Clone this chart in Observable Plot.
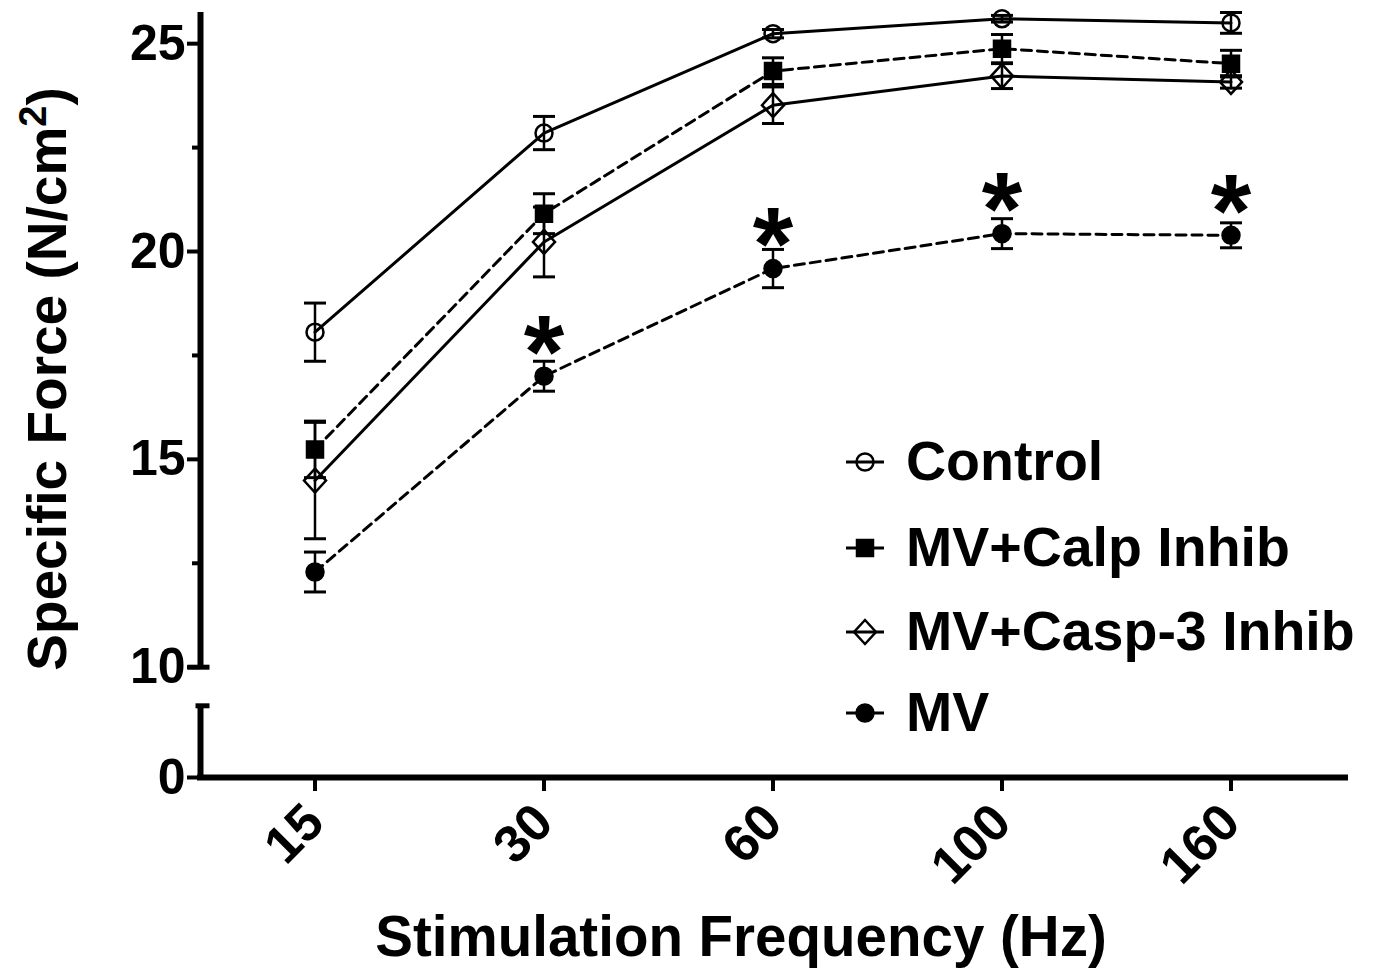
<!DOCTYPE html>
<html>
<head>
<meta charset="utf-8">
<script src="https://cdn.jsdelivr.net/npm/d3@7"></script>
<script src="https://cdn.jsdelivr.net/npm/@observablehq/plot@0.6"></script>
<style>
  body { margin: 0; background: #fff; }
  #wrap { position: relative; width: 1373px; height: 973px; font-family: "Liberation Sans", Arial, sans-serif; font-weight: bold; }
  #legend { position: absolute; left: 844px; top: 420px; }
  .row { position: absolute; left: 0; height: 84px; display: flex; align-items: center; white-space: nowrap; font-size: 55.5px; line-height: 1; color: #000; }
  .row svg { margin-right: 20px; }
</style>
</head>
<body>
<div id="wrap"></div>
<script>
// ---------- data ----------
const frequencies = ["15", "30", "60", "100", "160"];
const seriesNames = ["Control", "MV+Calp Inhib", "MV+Casp-3 Inhib", "MV"];
const controlMean = [18.06, 22.85, 25.24, 25.60, 25.50];
const controlSem  = [0.70, 0.40, 0.10, 0.08, 0.25];
const calpMean    = [15.24, 20.91, 24.34, 24.88, 24.52];
const calpSem     = [0.68, 0.48, 0.32, 0.34, 0.32];
const caspMean    = [14.49, 20.23, 23.52, 24.22, 24.08];
const caspSem     = [1.40, 0.84, 0.44, 0.30, 0.15];
const mvMean      = [12.29, 17.00, 19.59, 20.43, 20.39];
const mvSem       = [0.48, 0.36, 0.46, 0.36, 0.30];
const mvSignificant = [false, true, true, true, true];
const yTickValues = [0, 10, 15, 20, 25];
const yMinorTicks = [12.5, 17.5, 22.5];
const yBreakLow = 6.5;   // top of lower axis segment
const yBreakHigh = 10;   // bottom of upper axis segment
const yTop = 25.75;
const xLabel = "Stimulation Frequency (Hz)";
const yLabelMain = "Specific Force (N/cm";
const yLabelSup = "2";
const yLabelEnd = ")";

// ---------- symbols ----------
const symCircle = {draw(ctx) { ctx.moveTo(8.5, 0); ctx.arc(0, 0, 8.5, 0, 2 * Math.PI); }};
const symSmallCircle = {draw(ctx) { ctx.moveTo(8.5, 0); ctx.arc(0, 0, 8.5, 0, 2 * Math.PI); }};
const symSquare = {draw(ctx) { ctx.moveTo(-8, -8); ctx.lineTo(8, -8); ctx.lineTo(8, 8); ctx.lineTo(-8, 8); ctx.closePath(); }};
const symDiamond = {draw(ctx) { ctx.moveTo(0, -12); ctx.lineTo(11, 0); ctx.lineTo(0, 12); ctx.lineTo(-11, 0); ctx.closePath(); }};
const symCap = {draw(ctx) { ctx.moveTo(-11, 0); ctx.lineTo(11, 0); }};
const symBreakTop = {draw(ctx) { ctx.moveTo(-13, 0); ctx.lineTo(9, 0); }};
const symBreakBottom = {draw(ctx) { ctx.moveTo(-5, 0); ctx.lineTo(9, 0); }};

const styles = {
  "Control":         {mean: controlMean, sem: controlSem, dash: null,   symbol: symCircle,  fill: "none"},
  "MV+Calp Inhib":   {mean: calpMean,    sem: calpSem,    dash: "10,6", symbol: symSquare,  fill: "black"},
  "MV+Casp-3 Inhib": {mean: caspMean,    sem: caspSem,    dash: null,   symbol: symDiamond, fill: "none"},
  "MV":              {mean: mvMean,      sem: mvSem,      dash: "10,6", symbol: symSmallCircle, fill: "black"}
};

const rows = seriesNames.flatMap(s => frequencies.map((f, i) => ({
  series: s, i, mean: styles[s].mean[i], sem: styles[s].sem[i]
})));
const stars = frequencies.map((f, i) => ({i, mean: mvMean[i], sem: mvSem[i], sig: mvSignificant[i]})).filter(d => d.sig);
const xIdx = frequencies.map((f, i) => i);
const xDomain = [-0.5, frequencies.length - 0.5];

const marks = [];
// axis lines
marks.push(Plot.ruleY([0], {stroke: "black", strokeWidth: 6, strokeLinecap: "square"}));
marks.push(Plot.ruleX([xDomain[0]], {y1: yBreakHigh, y2: yTop, stroke: "black", strokeWidth: 6}));
marks.push(Plot.ruleX([xDomain[0]], {y1: 0, y2: yBreakLow, stroke: "black", strokeWidth: 6}));
marks.push(Plot.dot([{x: xDomain[0], y: yBreakHigh}], {x: "x", y: "y", symbol: symBreakTop, stroke: "black", strokeWidth: 5, fill: "none"}));
marks.push(Plot.dot([{x: xDomain[0], y: yBreakLow}], {x: "x", y: "y", symbol: symBreakBottom, stroke: "black", strokeWidth: 5, fill: "none"}));
// axes
marks.push(Plot.axisY(yTickValues, {tickSize: 13, tickPadding: 2, fontSize: 50, strokeWidth: 4, label: null}));
marks.push(Plot.axisY(yMinorTicks, {tickSize: 8, strokeWidth: 4, tickFormat: () => "", label: null}));
marks.push(Plot.axisX(xIdx, {tickSize: 14, tickPadding: 22, tickRotate: -45, fontSize: 52, strokeWidth: 4, tickFormat: i => frequencies[i], label: null}));

// series
for (const s of seriesNames) {
  const st = styles[s];
  const data = rows.filter(d => d.series === s);
  marks.push(Plot.line(data, {x: "i", y: "mean", stroke: "black", strokeWidth: 3, strokeDasharray: st.dash ?? undefined}));
  marks.push(Plot.ruleX(data, {x: "i", y1: d => d.mean - d.sem, y2: d => d.mean + d.sem, stroke: "black", strokeWidth: 2.5}));
  marks.push(Plot.dot(data, {x: "i", y: d => d.mean + d.sem, symbol: symCap, stroke: "black", strokeWidth: 3, fill: "none"}));
  marks.push(Plot.dot(data, {x: "i", y: d => d.mean - d.sem, symbol: symCap, stroke: "black", strokeWidth: 3, fill: "none"}));
  marks.push(Plot.dot(data, {x: "i", y: "mean", symbol: st.symbol, stroke: "black", strokeWidth: 2.5, fill: st.fill}));
}
// asterisks
marks.push(Plot.text(stars, {x: "i", y: "mean", text: () => "*", fontSize: 104, fontWeight: "bold", fill: "black", dy: -22}));

// titles
marks.push(Plot.text([xLabel], {frameAnchor: "bottom", textAnchor: "middle", dx: -32, dy: 178, fontSize: 56.5, fontWeight: "bold", fill: "black"}));
marks.push(Plot.text([yLabelMain + yLabelSup + yLabelEnd], {frameAnchor: "left", textAnchor: "middle", dx: -152, dy: -16, rotate: -90, fontSize: 55, fontWeight: "bold", fill: "black", className: "ytitle"}));

const chart = Plot.plot({
  width: 1373,
  height: 973,
  marginLeft: 200,
  marginRight: 28,
  marginTop: 12,
  marginBottom: 196,
  style: {fontFamily: "Liberation Sans, Arial, sans-serif", fontWeight: "bold", color: "black", background: "white", overflow: "visible"},
  x: {type: "linear", domain: xDomain},
  y: {type: "linear", domain: [0, yBreakHigh, yTop], range: [777, 666.7, 12]},
  marks
});

// superscript in y title
const yt = chart.querySelector(".ytitle text");
if (yt) {
  yt.textContent = "";
  const ns = "http://www.w3.org/2000/svg";
  const t1 = document.createElementNS(ns, "tspan"); t1.textContent = yLabelMain;
  const t2 = document.createElementNS(ns, "tspan"); t2.textContent = yLabelSup; t2.setAttribute("dy", "-20"); t2.setAttribute("font-size", "38");
  const t3 = document.createElementNS(ns, "tspan"); t3.textContent = yLabelEnd; t3.setAttribute("dy", "20");
  yt.append(t1, t2, t3);
}

const wrap = document.getElementById("wrap");
wrap.appendChild(chart);

// legend (overlay inside the plot area)
const legend = document.createElement("div");
legend.id = "legend";
const legendCenters = [462, 548, 632, 713];
seriesNames.forEach((s, k) => {
  const st = styles[s];
  const row = document.createElement("div");
  row.className = "row";
  row.style.top = (legendCenters[k] - 42 - 420) + "px";
  const svg = d3.create("svg").attr("width", 42).attr("height", 30).attr("viewBox", "-21 -15 42 30");
  svg.append("line").attr("x1", -19).attr("x2", 19).attr("y1", 0).attr("y2", 0).attr("stroke", "black").attr("stroke-width", 3);
  const p = d3.path(); st.symbol.draw(p);
  svg.append("path").attr("d", p.toString()).attr("fill", st.fill).attr("stroke", "black").attr("stroke-width", 2.5);
  row.appendChild(svg.node());
  const span = document.createElement("span"); span.textContent = s;
  row.appendChild(span);
  legend.appendChild(row);
});
wrap.appendChild(legend);
</script>
</body>
</html>
